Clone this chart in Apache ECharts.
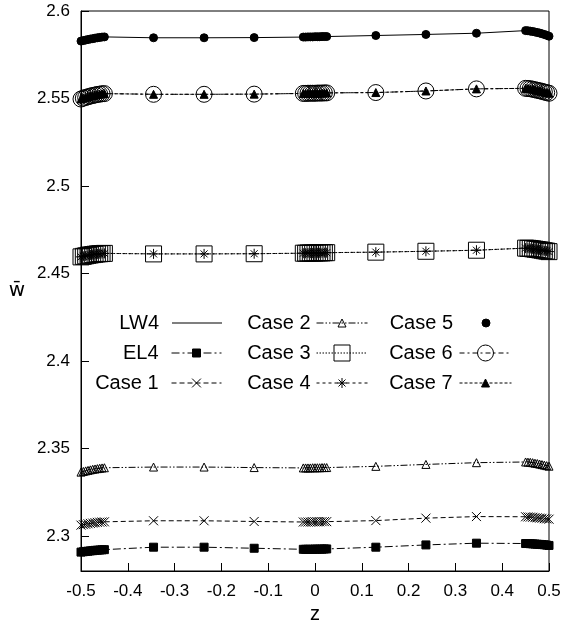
<!DOCTYPE html>
<html>
<head>
<meta charset="utf-8">
<script src="https://cdn.jsdelivr.net/npm/echarts@6/dist/echarts.min.js"></script>
<style>
  html, body { margin: 0; padding: 0; background: #fff; }
  #chart { width: 564px; height: 631px; }
</style>
</head>
<body>
<div id="chart"></div>
<script>
// thickness coordinate (sampling points, clustered at the faces and the mid-plane)
var z = [-0.5, -0.495, -0.49, -0.485, -0.48, -0.475, -0.47, -0.465, -0.46, -0.455, -0.45,
  -0.345, -0.237, -0.13,
  -0.025, -0.02, -0.015, -0.01, -0.005, 0, 0.005, 0.01, 0.015, 0.02, 0.025,
  0.13, 0.237, 0.345,
  0.45, 0.455, 0.46, 0.465, 0.47, 0.475, 0.48, 0.485, 0.49, 0.495, 0.5];

var lw4 = [2.5828, 2.5831, 2.5834, 2.5837, 2.5840, 2.5842, 2.5845, 2.5847, 2.5849, 2.5851, 2.5852,
  2.5847, 2.5847, 2.5848,
  2.5851, 2.5851, 2.5852, 2.5852, 2.5852, 2.5853, 2.5853, 2.5853, 2.5854, 2.5854, 2.5854,
  2.5860, 2.5866, 2.5873,
  2.5888, 2.5887, 2.5885, 2.5883, 2.5880, 2.5877, 2.5874, 2.5870, 2.5866, 2.5861, 2.5856];
var el4 = [2.2908, 2.2910, 2.2912, 2.2913, 2.2915, 2.2916, 2.2918, 2.2919, 2.2920, 2.2921, 2.2922,
  2.2936, 2.2936, 2.2930,
  2.2924, 2.2924, 2.2924, 2.2924, 2.2924, 2.2925, 2.2925, 2.2925, 2.2925, 2.2926, 2.2926,
  2.2936, 2.2949, 2.2959,
  2.2957, 2.2957, 2.2956, 2.2955, 2.2954, 2.2953, 2.2952, 2.2951, 2.2950, 2.2948, 2.2946];
var case1 = [2.3062, 2.3065, 2.3067, 2.3070, 2.3072, 2.3074, 2.3076, 2.3078, 2.3079, 2.3080, 2.3081,
  2.3087, 2.3087, 2.3083,
  2.3080, 2.3080, 2.3080, 2.3080, 2.3081, 2.3081, 2.3081, 2.3081, 2.3082, 2.3082, 2.3082,
  2.3088, 2.3102, 2.3111,
  2.3110, 2.3109, 2.3108, 2.3107, 2.3105, 2.3104, 2.3102, 2.3101, 2.3099, 2.3098, 2.3096];
var case2 = [2.3365, 2.3369, 2.3372, 2.3375, 2.3378, 2.3381, 2.3383, 2.3385, 2.3387, 2.3389, 2.3390,
  2.3394, 2.3394, 2.3391,
  2.3389, 2.3389, 2.3389, 2.3389, 2.3390, 2.3390, 2.3390, 2.3390, 2.3391, 2.3391, 2.3391,
  2.3398, 2.3409, 2.3419,
  2.3423, 2.3422, 2.3421, 2.3419, 2.3416, 2.3414, 2.3411, 2.3408, 2.3405, 2.3402, 2.3399];
var case3 = [2.4595, 2.4598, 2.4601, 2.4604, 2.4606, 2.4608, 2.4610, 2.4612, 2.4613, 2.4614, 2.4615,
  2.4612, 2.4612, 2.4613,
  2.4616, 2.4616, 2.4617, 2.4617, 2.4617, 2.4617, 2.4618, 2.4618, 2.4618, 2.4619, 2.4619,
  2.4622, 2.4627, 2.4633,
  2.4645, 2.4644, 2.4643, 2.4641, 2.4639, 2.4637, 2.4635, 2.4633, 2.4630, 2.4628, 2.4625];
var case4 = [2.4595, 2.4598, 2.4601, 2.4604, 2.4606, 2.4608, 2.4610, 2.4612, 2.4613, 2.4614, 2.4615,
  2.4612, 2.4612, 2.4613,
  2.4616, 2.4616, 2.4617, 2.4617, 2.4617, 2.4617, 2.4618, 2.4618, 2.4618, 2.4619, 2.4619,
  2.4622, 2.4627, 2.4633,
  2.4645, 2.4644, 2.4643, 2.4641, 2.4639, 2.4637, 2.4635, 2.4633, 2.4630, 2.4628, 2.4625];
var case5 = [2.5828, 2.5831, 2.5834, 2.5837, 2.5840, 2.5842, 2.5845, 2.5847, 2.5849, 2.5851, 2.5852,
  2.5847, 2.5847, 2.5848,
  2.5851, 2.5851, 2.5852, 2.5852, 2.5852, 2.5853, 2.5853, 2.5853, 2.5854, 2.5854, 2.5854,
  2.5860, 2.5866, 2.5873,
  2.5888, 2.5887, 2.5885, 2.5883, 2.5880, 2.5877, 2.5874, 2.5870, 2.5866, 2.5861, 2.5856];
var case6 = [2.5497, 2.5502, 2.5506, 2.5510, 2.5514, 2.5517, 2.5520, 2.5523, 2.5525, 2.5527, 2.5528,
  2.5524, 2.5524, 2.5525,
  2.5529, 2.5529, 2.5530, 2.5530, 2.5530, 2.5530, 2.5531, 2.5531, 2.5531, 2.5532, 2.5532,
  2.5534, 2.5543, 2.5555,
  2.5558, 2.5557, 2.5556, 2.5553, 2.5550, 2.5547, 2.5544, 2.5541, 2.5537, 2.5534, 2.5530];
var case7 = [2.5497, 2.5502, 2.5506, 2.5510, 2.5514, 2.5517, 2.5520, 2.5523, 2.5525, 2.5527, 2.5528,
  2.5524, 2.5524, 2.5525,
  2.5529, 2.5529, 2.5530, 2.5530, 2.5530, 2.5530, 2.5531, 2.5531, 2.5531, 2.5532, 2.5532,
  2.5534, 2.5543, 2.5555,
  2.5558, 2.5557, 2.5556, 2.5553, 2.5550, 2.5547, 2.5544, 2.5541, 2.5537, 2.5534, 2.5530];

var yTicks = [2.3, 2.35, 2.4, 2.45, 2.5, 2.55, 2.6];

var FONT = 'Liberation Sans';
var X_PATH = 'path://M0,0L10,10M10,0L0,10';
var STAR_PATH = 'path://M5,0L5,10M0,5L10,5M1.5,1.5L8.5,8.5M8.5,1.5L1.5,8.5';

function pairs(ys) {
  return z.map(function (v, i) { return [v, ys[i]]; });
}

function mk(name, ys, symbol, size, dash, hollow, noLine) {
  return {
    name: name,
    type: 'line',
    data: pairs(ys),
    symbol: symbol,
    symbolSize: size,
    showSymbol: symbol !== 'none',
    showAllSymbol: true,
    clip: false,
    silent: true,
    lineStyle: { color: '#000', width: noLine ? 0 : 1, type: dash },
    itemStyle: {
      color: hollow ? 'transparent' : '#000',
      borderColor: '#000',
      borderWidth: 1
    }
  };
}

var series = [
  mk('LW4', lw4, 'none', 0, 'solid'),
  mk('EL4', el4, 'rect', 8, [8, 3, 2, 3]),
  mk('Case 1', case1, X_PATH, 9, [5, 3]),
  mk('Case 2', case2, 'triangle', 8, [7, 2, 1.5, 2, 1.5, 2], true),
  mk('Case 3', case3, 'rect', 16, [1.5, 1.5], true),
  mk('Case 4', case4, STAR_PATH, 10, [3, 3]),
  mk('Case 5', case5, 'circle', 8, 'solid', false, true),
  mk('Case 6', case6, 'circle', 16, [5, 3, 2, 3], true),
  mk('Case 7', case7, 'triangle', 8, [3, 2])
];

// one legend per key entry, gnuplot style: text right-aligned before the sample
function key(name, right, row, width, iconH, gap, opts) {
  var item = { name: name };
  if (opts && opts.icon) item.icon = opts.icon;
  return {
    data: [item],
    right: right,
    top: row - 10,
    padding: 0,
    align: 'right',
    itemWidth: width,
    itemHeight: iconH,
    selectedMode: false,
    textStyle: { fontFamily: FONT, fontSize: 20, color: '#000', padding: [0, gap, 0, 0] },
    lineStyle: { width: (opts && opts.noLine) ? 0 : 1, color: '#000' },
    itemStyle: { borderWidth: (opts && opts.icon) ? 0 : 1 }
  };
}

var rows = [323, 353, 383];
var legends = [
  key('LW4', 342, rows[0], 50, 1, 8, { icon: 'rect' }),
  key('EL4', 342, rows[1], 50, 10, 8),
  key('Case 1', 342, rows[2], 50, 11, 8),
  key('Case 2', 196, rows[0], 51, 10, 1),
  key('Case 3', 196, rows[1], 51, 20, 1),
  key('Case 4', 196, rows[2], 51, 12.5, 1),
  key('Case 5', 52, rows[0], 52, 10, 2, { noLine: true }),
  key('Case 6', 52, rows[1], 52, 20, 2),
  key('Case 7', 52, rows[2], 52, 10, 2)
];

var option = {
  animation: false,
  backgroundColor: '#fff',
  legend: legends,
  grid: {
    left: 81, right: 15, top: 11, bottom: 60,
    show: true, borderColor: '#000', borderWidth: 1
  },
  xAxis: {
    type: 'value',
    min: -0.5,
    max: 0.5,
    interval: 0.1,
    name: 'z',
    nameLocation: 'middle',
    nameGap: 33,
    nameTextStyle: { fontFamily: FONT, fontSize: 20, color: '#000' },
    axisLine: { onZero: false, lineStyle: { color: '#000', width: 1 } },
    axisTick: { inside: true, length: 8, lineStyle: { color: '#000' } },
    axisLabel: { fontFamily: FONT, fontSize: 17, color: '#000', margin: 12 },
    splitLine: { show: false }
  },
  yAxis: {
    type: 'value',
    min: 2.28,
    max: 2.6,
    name: 'w\u0304',
    nameLocation: 'middle',
    nameRotate: 0,
    nameGap: 56,
    nameTextStyle: { fontFamily: 'DejaVu Sans', fontSize: 20, color: '#000', padding: [12, 0, 0, 0] },
    axisLine: { show: true, onZero: false, lineStyle: { color: '#000', width: 1 } },
    axisTick: { inside: true, length: 8, customValues: yTicks, lineStyle: { color: '#000' } },
    axisLabel: { fontFamily: FONT, fontSize: 17, color: '#000', margin: 11, customValues: yTicks },
    splitLine: { show: false }
  },
  series: series
};

echarts.init(document.getElementById('chart')).setOption(option);
</script>
</body>
</html>
